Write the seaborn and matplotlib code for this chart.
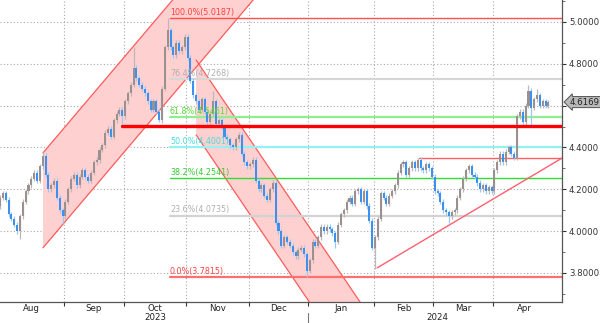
import numpy as np
import pandas as pd
import matplotlib
matplotlib.use("Agg")
import matplotlib.pyplot as plt
import matplotlib.transforms as mtransforms
from matplotlib.patches import Polygon
import seaborn as sns

# ---------------- data ----------------
first_open = 4.12
close = [
    4.16, 4.18, 4.15, 4.08, 4.06, 4.03, 4.00, 4.07, 4.14, 4.19,   # 0-9
    4.22, 4.25, 4.28, 4.24, 4.31, 4.36, 4.27, 4.20, 4.22, 4.24,   # 10-19
    4.16, 4.10, 4.07, 4.14, 4.20, 4.25, 4.27, 4.22, 4.26, 4.29,   # 20-29
    4.26, 4.24, 4.28, 4.33, 4.34, 4.39, 4.41, 4.47, 4.49, 4.45,   # 30-39
    4.53, 4.56, 4.58, 4.55, 4.62, 4.66, 4.70, 4.78, 4.73, 4.70,   # 40-49
    4.68, 4.66, 4.62, 4.58, 4.62, 4.57, 4.53, 4.68, 4.88, 4.96,   # 50-59
    4.88, 4.84, 4.90, 4.86, 4.88, 4.93, 4.83, 4.72, 4.65, 4.62,   # 60-69
    4.58, 4.63, 4.57, 4.52, 4.56, 4.62, 4.51, 4.53, 4.50, 4.45,   # 70-79
    4.44, 4.41, 4.40, 4.44, 4.46, 4.37, 4.33, 4.31, 4.32, 4.34,   # 80-89
    4.24, 4.20, 4.22, 4.17, 4.15, 4.20, 4.23, 4.04, 4.00, 3.93,   # 90-99
    3.97, 3.95, 3.93, 3.90, 3.88, 3.91, 3.92, 3.89, 3.81, 3.86,   # 100-109
    3.95, 3.93, 3.97, 4.02, 4.00, 4.02, 4.01, 3.99, 3.95, 4.03,   # 110-119
    4.08, 4.10, 4.14, 4.16, 4.13, 4.19, 4.20, 4.14, 4.19, 4.12,   # 120-129
    4.05, 3.92, 3.97, 4.06, 4.18, 4.16, 4.13, 4.17, 4.19, 4.22,   # 130-139
    4.28, 4.32, 4.33, 4.27, 4.30, 4.33, 4.30, 4.34, 4.30, 4.29,   # 140-149
    4.32, 4.30, 4.26, 4.19, 4.18, 4.14, 4.10, 4.09, 4.07, 4.09,   # 150-159
    4.10, 4.16, 4.20, 4.25, 4.29, 4.31, 4.27, 4.26, 4.23, 4.20,   # 160-169
    4.22, 4.19, 4.21, 4.19, 4.29, 4.33, 4.37, 4.33, 4.38, 4.40,   # 170-179
    4.37, 4.35, 4.55, 4.57, 4.52, 4.60, 4.67, 4.59, 4.63, 4.65,   # 180-189
    4.60, 4.62, 4.60, 4.6169,                                     # 190-193
]
high_ext = {15: 4.38, 47: 4.88, 59: 5.0187, 75: 4.67, 147: 4.35, 186: 4.70, 189: 4.68}
low_ext = {7: 3.96, 22: 4.04, 43: 4.50, 56: 4.52, 108: 3.7815, 118: 3.92,
           132: 3.82, 158: 4.04, 187: 4.50}

month_labels = ["Aug", "Sep", "Oct", "Nov", "Dec", "Jan", "Feb", "Mar", "Apr"]
month_start = [0, 23, 44, 66, 88, 109, 132, 153, 174]
month_days = [23, 21, 22, 22, 21, 23, 21, 21, 22]
year_labels = ["2023", "2024"]
year_pos = [54.5, 153.8]

fib_names = ["100.0%", "76.4%", "61.8%", "50.0%", "38.2%", "23.6%", "0.0%"]
fib_values = [5.0187, 4.7268, 4.5461, 4.4001, 4.2541, 4.0735, 3.7815]
fib_start = 59.8

support_level = 4.503
support_start = 43
resist_level = 4.35
resist_start = 147.5

up_ch_x = [15.1, 95.0]
up_ch_lower = [3.92, 5.20]
up_ch_upper = [4.374, 5.654]
dn_ch_x = [69.0, 135.0]
dn_ch_upper = [4.818, 3.495]
dn_ch_lower = [4.460, 3.137]
trend_x = [132.7, 197.8]
trend_y = [3.824, 4.349]

last_price = 4.6169
y_ticks = [3.8, 4.0, 4.2, 4.4, 4.6, 4.8, 5.0]
y_tick_labels = ["3.8000", "4.0000", "4.2000", "4.4000", "", "4.8000", "5.0000"]

# ---------------- style ----------------
sns.set_theme(style="white")
plt.rcParams["font.family"] = ["DejaVu Sans"]

fig = plt.figure(figsize=(6.0, 3.23), dpi=100)
ax = fig.add_axes([0.0, 1 - 302 / 323, 562 / 600, 302 / 323])
XMIN, XMAX = -0.03, 197.8
YMIN, YMAX = 3.661, 5.105

# channels
def channel(xs, lo, hi):
    verts = [(xs[0], lo[0]), (xs[0], hi[0]), (xs[1], hi[1]), (xs[1], lo[1])]
    ax.add_patch(Polygon(verts, closed=True, fc="#ffd0d0", ec="none", zorder=1))
    ax.plot(xs, lo, color="#ff5a5a", lw=0.9, zorder=2)
    ax.plot(xs, hi, color="#ff5a5a", lw=0.9, zorder=2)

channel(up_ch_x, up_ch_lower, up_ch_upper)
channel(dn_ch_x, dn_ch_lower, dn_ch_upper)

# grid
grid_kw = dict(color="#a9a9a9", lw=0.8, ls=(0, (1, 2)), zorder=0.5)
for yv in y_ticks:
    ax.axhline(yv, **grid_kw)
for ms in month_start[1:]:
    ax.axvline(ms - 0.5, **grid_kw)

# fib lines
fib_line_colors = ["#ff5050", "#d6d6d6", "#90ee90", "#92f2f2", "#33dd33", "#d2d2d2", "#ff7070"]
fib_line_widths = [1.0, 1.6, 1.6, 1.6, 1.0, 1.6, 1.6]
fib_text_colors = ["#ff4040", "#b0b0b0", "#55dd33", "#44dddd", "#33cc33", "#b0b0b0", "#ff4040"]
for name, val, lc, lw, tc in zip(fib_names, fib_values, fib_line_colors, fib_line_widths, fib_text_colors):
    ax.plot([fib_start, XMAX], [val, val], color=lc, lw=lw, zorder=2.5)
    ax.text(fib_start, val + 0.006, f"{name}({val:.4f})", color=tc, fontsize=5.8,
            ha="left", va="bottom", zorder=6)

# support / resistance
ax.plot([support_start, XMAX], [support_level, support_level], color="#ff0000", lw=2.4, zorder=5)
ax.plot([resist_start, XMAX], [resist_level, resist_level], color="#ff6060", lw=1.0, zorder=2.5)
# trend line
sns.lineplot(x=trend_x, y=trend_y, color="#ff6070", lw=1.0, ax=ax, zorder=2.5)

# candles
idx = np.arange(len(close))
opens = [first_open] + close[:-1]
df = pd.DataFrame({"idx": idx, "open": opens, "close": close})
df["up"] = df["close"] >= df["open"]
df["body_lo"] = df[["open", "close"]].min(axis=1)
df["body_hi"] = df[["open", "close"]].max(axis=1)
df["high"] = df["body_hi"] + 0.012
df["low"] = df["body_lo"] - 0.012
for k, v in high_ext.items():
    df.loc[k, "high"] = v
for k, v in low_ext.items():
    df.loc[k, "low"] = v
body_h = np.maximum(df["body_hi"] - df["body_lo"], 0.004)
body_col = np.where(df["up"], "#9a9090", "#3d90ee")
wick_col = np.where(df["up"], "#c0b8b8", "#98c9f6")
ax.vlines(df["idx"], df["low"], df["high"], colors=wick_col, lw=0.9, zorder=3)
ax.bar(df["idx"], body_h, bottom=df["body_lo"], width=0.72, color=body_col, lw=0, zorder=4)

# axes
ax.set_xlim(XMIN, XMAX)
ax.set_ylim(YMIN, YMAX)
ax.yaxis.tick_right()
ax.set_yticks(y_ticks)
ax.set_yticklabels(y_tick_labels, fontsize=6.2, color="#222222")
ax.set_yticks(np.arange(3.7, 5.11, 0.1), minor=True)
ax.tick_params(axis="y", which="major", direction="out", length=3, width=0.8, pad=2,
               colors="#333333", right=True, left=False)
ax.tick_params(axis="y", which="minor", direction="out", length=2, width=0.6,
               colors="#555555", right=True, left=False)
ax.set_xticks([m - 0.5 for m in month_start[1:]])
ax.set_xticklabels([])
ax.tick_params(axis="x", which="major", direction="out", length=3, width=0.8,
               colors="#333333", bottom=True)
xtrans = mtransforms.blended_transform_factory(ax.transData, ax.transAxes)
for lab, ms, nd in zip(month_labels, month_start, month_days):
    ax.text(ms + nd / 2 - 0.5, -0.006, lab, transform=xtrans,
            ha="center", va="top", fontsize=6.2, color="#222222")
for lab, xp in zip(year_labels, year_pos):
    ax.text(xp, -0.066, lab, transform=xtrans,
            ha="center", va="bottom", fontsize=6.2, color="#222222")
ax.plot([month_start[5] - 0.5] * 2, [-0.035, -0.075], transform=xtrans,
        color="#777777", lw=0.8, clip_on=False)

for s in ["top", "left"]:
    ax.spines[s].set_visible(False)
for s in ["right", "bottom"]:
    ax.spines[s].set_color("#555555")
    ax.spines[s].set_linewidth(0.9)
ax.set_xlabel("")
ax.set_ylabel("")
ax.grid(False)

# last price tag
ytrans = mtransforms.blended_transform_factory(ax.transAxes, ax.transData)
ax.annotate(f"{last_price:.4f}", xy=(1.0, last_price), xycoords=ytrans,
            xytext=(1.014, last_price), textcoords=ytrans,
            fontsize=6.2, color="#222222", ha="left", va="center",
            bbox=dict(boxstyle="larrow,pad=0.12", fc="#b9b9b9", ec="#555555", lw=0.7),
            annotation_clip=False, zorder=10)

fig.savefig("out.png", dpi=100)
